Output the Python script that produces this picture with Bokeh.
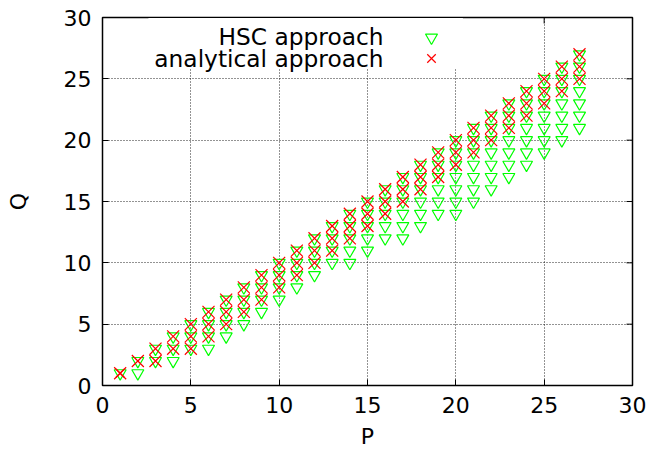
import math
from bokeh.plotting import figure
from bokeh.models import (Range1d, FixedTicker, Legend, LegendItem, Label,
                          BoxAnnotation, ColumnDataSource, CDSView, IndexFilter)
from bokeh.core.properties import value
from bokeh.embed import file_html
from bokeh.resources import INLINE

# ---- data ----
p_values = list(range(1, 28))

hsc_q = [
    [1], [1, 2], [2, 3], [2, 3, 4], [3, 4, 5], [3, 4, 5, 6], [4, 5, 6, 7],
    [5, 6, 7, 8], [6, 7, 8, 9], [7, 8, 9, 10], [8, 9, 10, 11], [9, 10, 11, 12],
    [10, 11, 12, 13], [10, 11, 12, 13, 14], [11, 12, 13, 14, 15],
    [12, 13, 14, 15, 16], [12, 13, 14, 15, 16, 17], [13, 14, 15, 16, 17, 18],
    [14, 15, 16, 17, 18, 19], [14, 15, 16, 17, 18, 19, 20],
    [15, 16, 17, 18, 19, 20, 21], [16, 17, 18, 19, 20, 21, 22],
    [17, 18, 19, 20, 21, 22, 23], [18, 19, 20, 21, 22, 23, 24],
    [19, 20, 21, 22, 23, 24, 25], [20, 21, 22, 23, 24, 25, 26],
    [21, 22, 23, 24, 25, 26, 27],
]

analytical_q = [
    [1], [2], [2, 3], [3, 4], [3, 4, 5], [4, 5, 6], [5, 6, 7], [6, 7, 8],
    [7, 8, 9], [8, 9, 10], [9, 10, 11], [10, 11, 12], [11, 12, 13],
    [12, 13, 14], [13, 14, 15], [14, 15, 16], [15, 16, 17], [16, 17, 18],
    [17, 18, 19], [18, 19, 20], [19, 20, 21], [20, 21, 22], [21, 22, 23],
    [22, 23, 24], [23, 24, 25], [24, 25, 26], [25, 26, 27],
]

x_ticks = [0, 5, 10, 15, 20, 25, 30]
y_ticks = [0, 5, 10, 15, 20, 25, 30]
series_names = ["HSC approach", "analytical approach"]

def flatten(ps, qs):
    xs, ys = [], []
    for p, ql in zip(ps, qs):
        for q in ql:
            xs.append(p)
            ys.append(q)
    return dict(x=xs, y=ys)

hsc_src = ColumnDataSource(flatten(p_values, hsc_q))
ana_src = ColumnDataSource(flatten(p_values, analytical_q))

FONT = "DejaVu Sans"
FS = "22px"
KEY_FS = "23.3px"
X0, X1, Y0, Y1 = 0, 30, 0, 30

p = figure(width=668, height=453, x_range=Range1d(X0, X1), y_range=Range1d(Y0, Y1),
           output_backend="svg", toolbar_location=None,
           min_border_left=102, min_border_right=36, min_border_top=17,
           min_border_bottom=68)
p.outline_line_color = "black"
p.outline_line_width = 1.5
p.background_fill_color = "white"
p.border_fill_color = "white"

for ax, ticks in ((p.xaxis[0], x_ticks), (p.yaxis[0], y_ticks)):
    ax.ticker = FixedTicker(ticks=ticks)
    ax.major_tick_in = 6
    ax.major_tick_out = 0
    ax.minor_tick_line_color = None
    ax.axis_line_color = None
    ax.major_tick_line_color = "black"
    ax.major_label_text_font = FONT
    ax.major_label_text_font_size = FS
    ax.major_label_text_color = "black"
    ax.axis_label_text_font = FONT
    ax.axis_label_text_font_size = FS
    ax.axis_label_text_font_style = "normal"
    ax.axis_label_text_color = "black"
    ax.major_label_standoff = 11

p.xaxis.axis_label = "P"
p.yaxis.axis_label = "Q"
p.xaxis.axis_label_standoff = 8
p.yaxis.axis_label_standoff = 30

# mirrored inward ticks on top and right borders (gnuplot "mirror")
tick_len_px = 6
frame_w, frame_h = 668 - 102 - 36, 453 - 17 - 68
tx = tick_len_px * (X1 - X0) / frame_w
ty = tick_len_px * (Y1 - Y0) / frame_h
p.segment(x0=x_ticks, y0=[Y1] * len(x_ticks), x1=x_ticks, y1=[Y1 - ty] * len(x_ticks),
          line_color="black", line_width=1)
p.segment(x0=[X1] * len(y_ticks), y0=y_ticks, x1=[X1 - tx] * len(y_ticks), y1=y_ticks,
          line_color="black", line_width=1)

for g, ticks in ((p.xgrid[0], x_ticks), (p.ygrid[0], y_ticks)):
    g.ticker = FixedTicker(ticks=ticks)
    g.grid_line_color = "black"
    g.grid_line_alpha = 0.85
    g.grid_line_width = 1
    g.grid_line_dash = "1 2"

# opaque key box (gnuplot "key opaque")
p.add_layout(BoxAnnotation(left=2.6, right=20.4, bottom=25.8, top=29.95,
                           fill_color="white", fill_alpha=1.0, line_color=None,
                           level="glyph"))

r_hsc = p.scatter("x", "y", source=hsc_src, marker="inverted_triangle", size=12,
                  fill_color=None, line_color="#00ff00", line_width=1.2)
r_ana = p.scatter("x", "y", source=ana_src, marker="cross", angle=math.pi / 4,
                  size=17, fill_color=None, line_color="#ff0000", line_width=1.2)
# key sample for the analytical series: an "x" marker drawn on its first point
r_ana_key = p.scatter("x", "y", source=ana_src, view=CDSView(filter=IndexFilter(indices=[0])),
                      marker="x", size=12, fill_color=None, line_color="#ff0000",
                      line_width=1.2)

# key: label text on the left, sample marker on the right
for i, (r, name) in enumerate(zip((r_hsc, r_ana_key), series_names)):
    leg = Legend(items=[LegendItem(label=value(" "), renderers=[r])],
                 location=(314, 333 - 21 * i), glyph_width=30, glyph_height=30,
                 padding=0, margin=0, spacing=0, border_line_color=None,
                 background_fill_alpha=0, label_standoff=0, label_width=0,
                 label_height=0, label_text_font_size="10px")
    p.add_layout(leg)
    p.add_layout(Label(x=281, y=349.5 - 22 * i, x_units="screen", y_units="screen",
                       text=name, text_align="right", text_baseline="alphabetic",
                       text_font=FONT, text_font_size=KEY_FS, text_color="black"))

open("out.html", "w").write(file_html(p, INLINE))
